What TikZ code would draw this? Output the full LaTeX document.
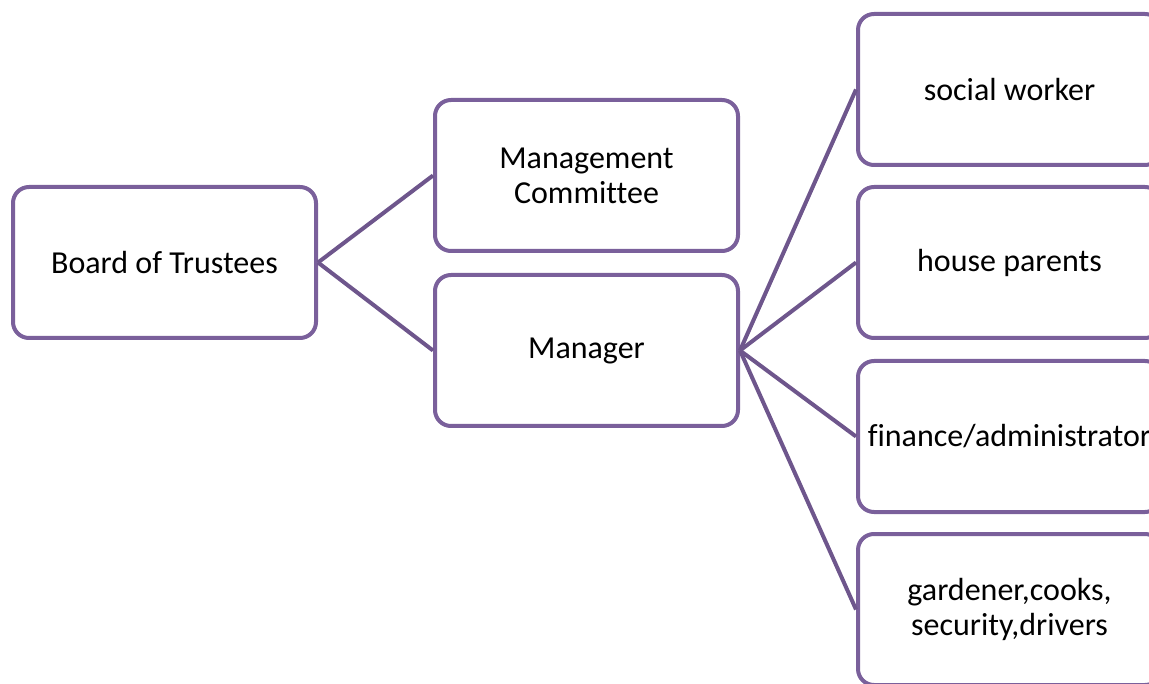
\documentclass[tikz,border=0pt]{standalone}
\usepackage{fontspec}
\setmainfont[Ligatures=NoCommon]{Carlito}
\definecolor{boxline}{RGB}{122,96,155}
\definecolor{conline}{RGB}{110,86,140}
\begin{document}
\begin{tikzpicture}[x=1pt,y=-1pt,
  orgbox/.style={draw=boxline, line width=4pt, rounded corners=16pt, fill=white,
    minimum width=303pt, minimum height=151pt, align=center, inner sep=2pt,
    font=\fontsize{32}{35}\selectfont},
  conn/.style={draw=conline, line width=4pt}]
\useasboundingbox (0,0) rectangle (1149,684);
\clip (0,0) rectangle (1149,684);
\node[orgbox] (bot) at (164.5,262.5) {Board of Trustees};
\node[orgbox] (mc) at (586.5,175.5) {Management\\Committee};
\node[orgbox] (mgr) at (586.5,350.5) {Manager};
\node[orgbox] (sw) at (1009.5,89.5) {social worker};
\node[orgbox] (hp) at (1009.5,262.5) {house parents};
\node[orgbox] (fa) at (1009.5,436.5) {finance/administrator};
\node[orgbox] (gc) at (1009.5,609.5) {gardener,cooks,\\security,drivers};
\draw[conn] (bot.east) -- (mc.west);
\draw[conn] (bot.east) -- (mgr.west);
\draw[conn] (mgr.east) -- (sw.west);
\draw[conn] (mgr.east) -- (hp.west);
\draw[conn] (mgr.east) -- (fa.west);
\draw[conn] (mgr.east) -- (gc.west);
\end{tikzpicture}
\end{document}
